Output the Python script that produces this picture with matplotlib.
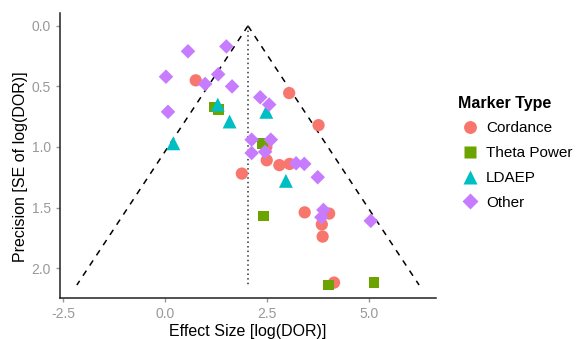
import matplotlib
matplotlib.use("Agg")
import matplotlib.pyplot as plt
from matplotlib.lines import Line2D
import numpy as np

plt.rcParams["font.family"] = ["Liberation Sans", "DejaVu Sans"]

# effect size (log DOR) and standard error per marker type
cordance_x = [0.75, 3.04, 3.76, 2.48, 2.49, 2.80, 3.05, 1.88, 3.42, 4.02, 3.84, 3.86, 4.14]
cordance_se = [0.45, 0.555, 0.82, 1.00, 1.11, 1.15, 1.14, 1.22, 1.54, 1.55, 1.64, 1.74, 2.12]
theta_x = [1.20, 1.30, 2.39, 2.41, 4.01, 5.12]
theta_se = [0.67, 0.69, 0.97, 1.57, 2.14, 2.12]
ldaep_x = [0.20, 1.29, 1.58, 2.48, 2.96]
ldaep_se = [0.97, 0.65, 0.79, 0.71, 1.28]
other_x = [0.56, 1.50, 0.02, 0.07, 1.30, 0.98, 1.64, 2.33, 2.55, 2.12, 2.59,
           2.12, 2.45, 3.21, 3.41, 3.74, 3.88, 3.83, 5.04]
other_se = [0.21, 0.17, 0.42, 0.71, 0.40, 0.48, 0.50, 0.59, 0.65, 0.94, 0.94,
            1.05, 1.04, 1.135, 1.14, 1.25, 1.52, 1.58, 1.61]

mean_effect = 2.03
max_se = 2.14

groups = [
    ("Cordance", cordance_x, cordance_se, "o", "#F8766D", 78),
    ("Theta Power", theta_x, theta_se, "s", "#6BA300", 60),
    ("LDAEP", ldaep_x, ldaep_se, "^", "#00BFC4", 100),
    ("Other", other_x, other_se, "D", "#C77CFF", 55),
]

fig = plt.figure(figsize=(5.76, 3.39), dpi=100)
ax = fig.add_axes([0.104, 0.121, 0.653, 0.841])

# funnel
se_line = np.array([0, max_se])
ax.plot(mean_effect - 1.96 * se_line, se_line, ls=(0, (4, 4)), color="black", lw=1.1, zorder=1)
ax.plot(mean_effect + 1.96 * se_line, se_line, ls=(0, (4, 4)), color="black", lw=1.1, zorder=1)
ax.plot([mean_effect, mean_effect], se_line, ls=(0, (1, 2)), color="#333333", lw=1.1, zorder=1)

for name, xs, ses, mk, col, s in groups:
    ax.scatter(xs, ses, marker=mk, s=s, color=col, edgecolors="none", zorder=3)

ax.set_xlim(-2.58, 6.64)
ax.set_ylim(2.247, -0.107)
ax.set_xticks([-2.5, 0.0, 2.5, 5.0])
ax.set_yticks([0.0, 0.5, 1.0, 1.5, 2.0])
ax.set_xticklabels(["-2.5", "0.0", "2.5", "5.0"])
ax.set_yticklabels(["0.0", "0.5", "1.0", "1.5", "2.0"])
for side in ["top", "right"]:
    ax.spines[side].set_visible(False)
for side in ["left", "bottom"]:
    ax.spines[side].set_linewidth(1.1)
    ax.spines[side].set_color("#222222")
ax.tick_params(colors="#999999", labelsize=10, length=3, width=1)
ax.set_xlabel("Effect Size [log(DOR)]", fontsize=11.5, labelpad=2)
ax.set_ylabel("Precision [SE of log(DOR)]", fontsize=11.5, labelpad=4)
ax.yaxis.set_label_coords(-0.085, 0.46)

handles = [Line2D([], [], marker=mk, ls="", color=col, markersize=np.sqrt(s) * 1.05,
                  markeredgecolor="none", label=name)
           for name, xs, ses, mk, col, s in groups]
leg = fig.legend(handles=handles, title="Marker Type", loc="upper left",
                 bbox_to_anchor=(0.772, 0.758), frameon=False, fontsize=11,
                 title_fontproperties={"weight": "bold", "size": 11.5},
                 handletextpad=0.3, labelspacing=0.7, handlelength=1.5)
leg._legend_box.align = "left"

fig.savefig("out.png", dpi=100)
